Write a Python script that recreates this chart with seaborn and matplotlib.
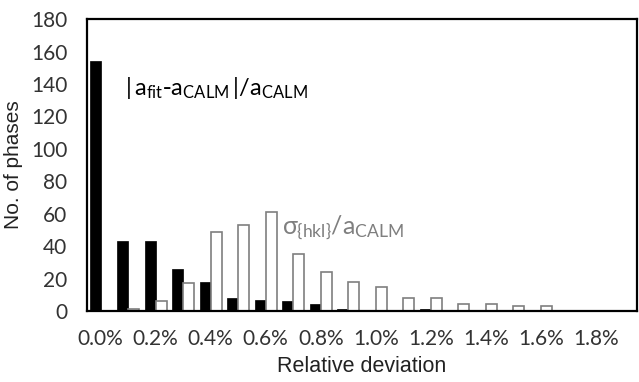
import matplotlib
matplotlib.use("Agg")
import matplotlib.pyplot as plt
import seaborn as sns
import pandas as pd

# relative deviation bins (0.0% .. 1.9%)
bins = [f"{i / 10:.1f}%" for i in range(20)]
fit_dev = [154, 43, 43, 26, 18, 8, 7, 6, 4, 1, 0, 0, 1, 0, 0, 0, 0, 0, 0, 0]
sigma_dev = [0, 1, 6, 17, 49, 53, 61, 35, 24, 18, 15, 8, 8, 4, 4, 3, 3, 0, 0, 0]
tick_labels = ["0.0%", "0.2%", "0.4%", "0.6%", "0.8%", "1.0%", "1.2%", "1.4%", "1.6%", "1.8%"]

df = pd.DataFrame({
    "bin": bins * 2,
    "count": fit_dev + sigma_dev,
    "series": ["fit"] * len(bins) + ["sigma"] * len(bins),
})

sns.set_theme(style="white")
plt.rcParams["mathtext.fontset"] = "custom"
plt.rcParams["mathtext.rm"] = "Lato"
plt.rcParams["mathtext.it"] = "Lato"
plt.rcParams["mathtext.bf"] = "Lato"

fig = plt.figure(figsize=(6.39, 3.82), dpi=100)
ax = fig.add_axes([0.136, 0.186, 0.861, 0.764])

sns.barplot(data=df, x="bin", y="count", hue="series", order=bins,
            palette=["black", "white"], width=0.8, legend=False, ax=ax)

for bar in ax.containers[0]:
    bar.set_edgecolor("black")
    bar.set_linewidth(0.5)
for bar in ax.containers[1]:
    bar.set_edgecolor("#7f7f7f")
    bar.set_linewidth(1.2)

ax.set_xlim(-0.5, len(bins) - 0.5)
ax.set_ylim(0, 180)
ax.set_yticks(range(0, 181, 20))
ax.set_xticks(range(0, len(bins), 2))
ax.set_xticklabels(tick_labels)
ax.tick_params(axis="both", length=0, labelsize=15, labelcolor="#333333")
for lab in ax.get_xticklabels() + ax.get_yticklabels():
    lab.set_fontfamily("Lato")
ax.tick_params(axis="x", pad=13)
ax.tick_params(axis="y", pad=14)

for sp in ax.spines.values():
    sp.set_color("black")
    sp.set_linewidth(1.6)

ax.set_xlabel("Relative deviation", fontsize=15.5, family="Liberation Sans",
              color="#222222", labelpad=5)
ax.set_ylabel("No. of phases", fontsize=15, family="Liberation Sans",
              color="#222222", labelpad=6)

ax.text(0.07, 0.765, r"$\mathrm{|\,a_{fit}}$-$\mathrm{a_{CALM}\,|/a_{CALM}}$",
        transform=ax.transAxes, fontsize=17, color="black", va="center")
ax.text(0.355, 0.285, r"$\sigma_{\{\mathrm{hkl}\}}\mathrm{/a_{CALM}}$",
        transform=ax.transAxes, fontsize=18, color="#7f7f7f", va="center")

fig.savefig("out.png", dpi=100)
